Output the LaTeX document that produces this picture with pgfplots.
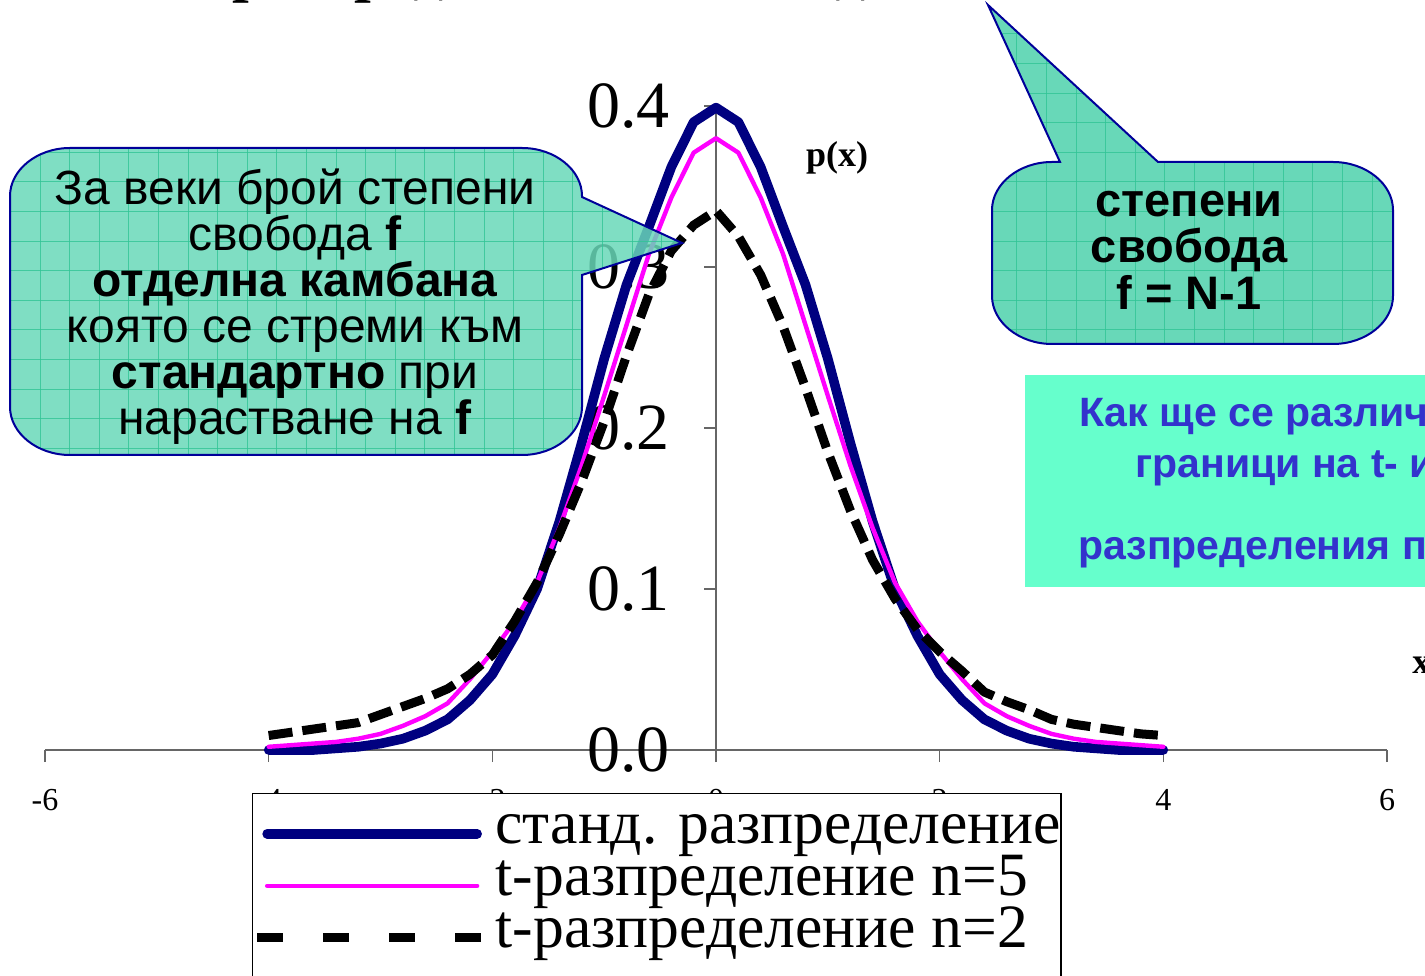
\documentclass[border=0pt]{standalone}
\usepackage{fontspec}
\setmainfont{Liberation Serif}
\newfontfamily\arial{Liberation Sans}
\usepackage{pgfplots}
\pgfplotsset{compat=1.18}
\definecolor{navyc}{RGB}{0,0,128}
\definecolor{magc}{RGB}{255,0,255}
\definecolor{calfill}{RGB}{104,216,184}
\definecolor{calgrid}{RGB}{50,196,150}
\definecolor{calline}{RGB}{0,0,153}
\definecolor{boxfill}{RGB}{102,255,204}
\definecolor{boxtext}{RGB}{51,51,204}
\begin{document}
\begin{tikzpicture}
\begin{axis}[
  at={(22.5pt,112.5pt)}, anchor=south west,
  scale only axis, width=671pt, height=322pt,
  xmin=-6, xmax=6, ymin=0, ymax=0.4,
  axis lines=middle,
  axis line style={-, draw=gray!80!black, line width=0.8pt},
  xtick={-6,-4,-2,0,2,4,6},
  ytick={0,0.1,0.2,0.3,0.4},
  tick align=outside,
  major tick length=6pt,
  tick style={gray!80!black, line width=0.8pt},
  hide obscured x ticks=false, hide obscured y ticks=false,
  /pgf/number format/assume math mode=true,
  yticklabel style={font=\fontsize{33}{33}\selectfont, xshift=-13.5pt, /pgf/number format/.cd, fixed, fixed zerofill, precision=1},
  xticklabel style={font=\fontsize{16}{16}\selectfont, yshift=-10pt},
  clip=false,
  legend image code/.code={\draw[#1] (0pt,0pt) -- (105pt,0pt);},
  legend style={at={(0.1542,-0.0668)}, anchor=north west, draw=black, line width=0.7pt, fill=white,
    font=\fontsize{30.8}{30.8}\selectfont, inner xsep=0pt, inner ysep=7pt, row sep=0pt, column sep=5pt,
    nodes={inner sep=0pt, text height=18pt, text depth=8pt}},
  legend cell align=left,
]
\addplot[navyc, line width=4.8pt, line join=round, line cap=round] coordinates {
(-4,0)(-3.8,0)(-3.6,0)(-3.4,0.001)(-3.2,0.002)(-3,0.004)(-2.8,0.007)(-2.6,0.012)(-2.4,0.019)(-2.2,0.031)(-2,0.047)(-1.8,0.071)(-1.6,0.100)(-1.4,0.142)(-1.2,0.191)(-1,0.243)(-0.8,0.289)(-0.6,0.325)(-0.4,0.362)(-0.2,0.390)(0,0.399)
(0.2,0.390)(0.4,0.362)(0.6,0.325)(0.8,0.289)(1,0.243)(1.2,0.191)(1.4,0.142)(1.6,0.100)(1.8,0.071)(2,0.047)(2.2,0.031)(2.4,0.019)(2.6,0.012)(2.8,0.007)(3,0.004)(3.2,0.002)(3.4,0.001)(3.6,0)(3.8,0)(4,0)};
\addlegendentry{станд. разпределение}
\addplot[magc, line width=2.2pt, line join=round, line cap=round] coordinates {
(-4,0.002)(-3.8,0.003)(-3.6,0.004)(-3.4,0.005)(-3.2,0.007)(-3,0.010)(-2.8,0.015)(-2.6,0.021)(-2.4,0.029)(-2.2,0.044)(-2,0.061)(-1.8,0.080)(-1.6,0.104)(-1.4,0.138)(-1.2,0.177)(-1,0.220)(-0.8,0.264)(-0.6,0.308)(-0.4,0.343)(-0.2,0.371)(0,0.380)
(0.2,0.371)(0.4,0.343)(0.6,0.308)(0.8,0.264)(1,0.220)(1.2,0.177)(1.4,0.138)(1.6,0.104)(1.8,0.080)(2,0.061)(2.2,0.044)(2.4,0.029)(2.6,0.021)(2.8,0.015)(3,0.010)(3.2,0.007)(3.4,0.005)(3.6,0.004)(3.8,0.003)(4,0.002)};
\addlegendentry{t-разпределение n=5}
\addplot[black, line width=4.5pt, dash pattern=on 12pt off 5pt,
  legend image code/.code={\draw[black, line width=4.5pt, dash pattern=on 13pt off 20pt] (-5pt,0pt) -- (107pt,0pt);}] coordinates {
(-4,0.009)(-3.8,0.011)(-3.6,0.013)(-3.4,0.015)(-3.2,0.017)(-3,0.022)(-2.8,0.027)(-2.6,0.032)(-2.4,0.038)(-2.2,0.047)(-2,0.059)(-1.8,0.080)(-1.6,0.104)(-1.4,0.134)(-1.2,0.167)(-1,0.204)(-0.8,0.245)(-0.6,0.283)(-0.4,0.310)(-0.2,0.326)(0,0.335)
(0.2,0.319)(0.4,0.295)(0.6,0.263)(0.8,0.225)(1,0.185)(1.2,0.149)(1.4,0.118)(1.6,0.094)(1.8,0.075)(2,0.061)(2.2,0.049)(2.4,0.036)(2.6,0.030)(2.8,0.025)(3,0.019)(3.2,0.016)(3.4,0.014)(3.6,0.012)(3.8,0.010)(4,0.009)};
\addlegendentry{t-разпределение n=2}
\addlegendimage{empty legend}
\addlegendentry{}
\end{axis}

\begin{scope}[x=0.5pt, y=-0.5pt, yshift=487.5pt]
% title (mostly above the page)
\node[anchor=base west, inner sep=0pt, font=\bfseries\fontsize{30}{30}\selectfont] at (192,-9) {t-разпределение на Стюдънт};
% left callout
\begin{scope}
\clip (682,243) -- (582,275) -- (582,407) .. controls (582,433) and (555,455) .. (522,455) -- (70,455) .. controls (37,455) and (10,433) .. (10,407) -- (10,196) .. controls (10,170) and (37,148) .. (70,148) -- (522,148) .. controls (555,148) and (582,170) .. (582,196) -- (582,197) -- cycle;
\fill[calfill, opacity=0.85] (0,100) rectangle (700,500);
\foreach \i in {0,...,22} \draw[calgrid, line width=0.5pt, opacity=0.8] ({40+29.6*\i},100) -- ({40+29.6*\i},500);
\foreach \j in {0,...,16} \draw[calgrid, line width=0.5pt, opacity=0.8] (0,{34+29.6*\j}) -- (700,{34+29.6*\j});
\end{scope}
\draw[calline, line width=1pt] (682,243) -- (582,275) -- (582,407) .. controls (582,433) and (555,455) .. (522,455) -- (70,455) .. controls (37,455) and (10,433) .. (10,407) -- (10,196) .. controls (10,170) and (37,148) .. (70,148) -- (522,148) .. controls (555,148) and (582,170) .. (582,196) -- (582,197) -- cycle;
\begin{scope}[every node/.style={anchor=base, inner sep=0pt, font=\arial\fontsize{24}{24}\selectfont}]
\node at (295,205) {За веки брой степени};
\node at (295,251) {свобода \textbf{f}};
\node at (295,297) {\textbf{отделна камбана}};
\node at (295,343) {която се стреми към};
\node at (295,389) {\textbf{стандартно} при};
\node at (295,435) {нарастване на \textbf{f}};
\end{scope}
% right callout
\begin{scope}
\clip (988,5) -- (1158,162) -- (1333,162) .. controls (1366,162) and (1393,184) .. (1393,210) -- (1393,296) .. controls (1393,322) and (1366,344) .. (1333,344) -- (1052,344) .. controls (1019,344) and (992,322) .. (992,296) -- (992,210) .. controls (992,184) and (1019,162) .. (1052,162) -- (1060,162) -- cycle;
\fill[calfill] (950,0) rectangle (1425,360);
\foreach \i in {32,...,47} \draw[calgrid, line width=0.5pt, opacity=0.8] ({40+29.6*\i},0) -- ({40+29.6*\i},360);
\foreach \j in {0,...,12} \draw[calgrid, line width=0.5pt, opacity=0.8] (950,{34+29.6*\j}) -- (1425,{34+29.6*\j});
\end{scope}
\draw[calline, line width=1pt] (988,5) -- (1158,162) -- (1333,162) .. controls (1366,162) and (1393,184) .. (1393,210) -- (1393,296) .. controls (1393,322) and (1366,344) .. (1333,344) -- (1052,344) .. controls (1019,344) and (992,322) .. (992,296) -- (992,210) .. controls (992,184) and (1019,162) .. (1052,162) -- (1060,162) -- cycle;
\begin{scope}[every node/.style={anchor=base, inner sep=0pt, font=\arial\bfseries\fontsize{23.5}{23.5}\selectfont}]
\node at (1189,217) {степени};
\node at (1189,263) {свобода};
\node at (1189,310) {f = N-1};
\end{scope}
% right box
\fill[boxfill] (1025,375) rectangle (1500,587);
\begin{scope}[every node/.style={anchor=base west, inner sep=0pt, text=boxtext, font=\arial\bfseries\fontsize{20.5}{20.5}\selectfont}]
\node at (1079,427) {Как ще се различават};
\node at (1135,478) {граници на t- и};
\node at (1078,560) {разпределения при};
\end{scope}
% axis labels
\node[font=\bfseries\fontsize{18}{18}\selectfont, inner sep=0pt] at (837,158) {p(x)};
\node[anchor=west, font=\bfseries\fontsize{18}{18}\selectfont, inner sep=0pt] at (1412,665) {x};
\end{scope}
\pgfresetboundingbox
\useasboundingbox (0,0) rectangle (712.5pt,487.5pt);
\end{tikzpicture}
\end{document}
